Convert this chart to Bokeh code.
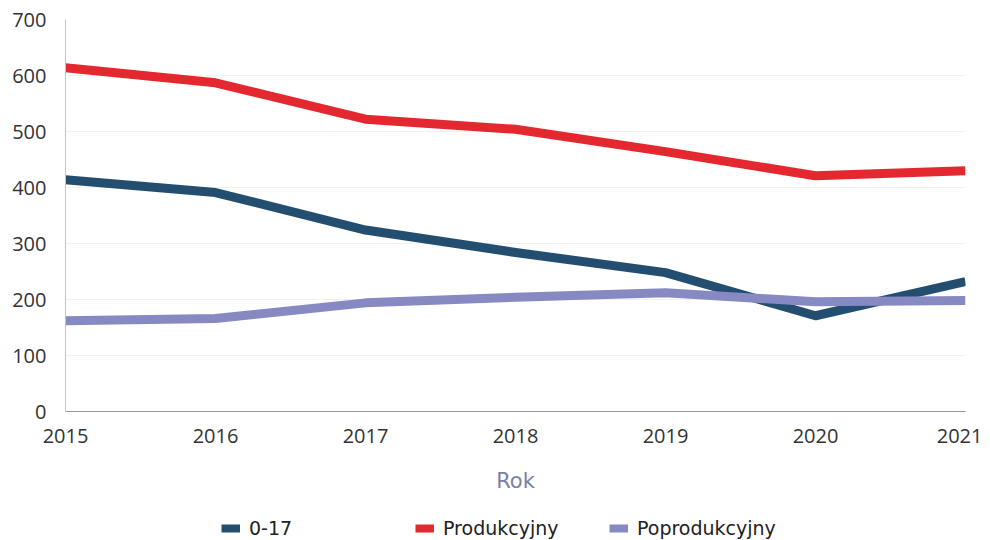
from bokeh.plotting import figure
from bokeh.models import Legend, LegendItem, FixedTicker, Range1d
from bokeh.layouts import column
from bokeh.embed import file_html
from bokeh.resources import INLINE

years = [2015, 2016, 2017, 2018, 2019, 2020, 2021]
ages_0_17 = [414, 391, 324, 284, 248, 171, 232]
produkcyjny = [614, 587, 522, 504, 464, 421, 430]
poprodukcyjny = [162, 166, 194, 204, 212, 196, 198]
y_ticks = [0, 100, 200, 300, 400, 500, 600, 700]

series_names = ["0-17", "Produkcyjny", "Poprodukcyjny"]
series_values = [ages_0_17, produkcyjny, poprodukcyjny]
series_colors = ["#234e70", "#e4282f", "#8789c3"]

p = figure(frame_width=900, frame_height=392, output_backend="svg", toolbar_location=None,
           x_range=Range1d(2015, 2021), y_range=Range1d(0, 700),
           min_border_left=65, min_border_right=17, min_border_top=19, min_border_bottom=105)
p.outline_line_color = None
p.background_fill_color = "white"

for vals, col in zip(series_values, series_colors):
    p.line(years, vals, line_color=col, line_width=9, line_join="round", line_cap="butt")

for ax in (p.xaxis[0], p.yaxis[0]):
    ax.major_tick_line_color = None
    ax.minor_tick_line_color = None
    ax.major_tick_out = 0
    ax.major_tick_in = 0
    ax.minor_tick_out = 0
    ax.major_label_text_font = "Open Sans"
    ax.major_label_text_font_size = "20px"
    ax.major_label_text_color = "#333333"

p.yaxis.ticker = FixedTicker(ticks=y_ticks)
p.xaxis.ticker = FixedTicker(ticks=years)
p.yaxis.axis_line_color = "#c4c4c4"
p.xaxis.axis_line_color = "#9a9a9a"
p.yaxis.major_label_standoff = 19
p.xaxis.major_label_standoff = 17
p.xaxis.axis_label = "Rok"
p.xaxis.axis_label_text_font = "DejaVu Sans"
p.xaxis.axis_label_text_font_style = "normal"
p.xaxis.axis_label_text_font_size = "21px"
p.xaxis.axis_label_text_color = "#7c7fa8"
p.xaxis.axis_label_standoff = 23

p.xgrid.grid_line_color = None
p.ygrid.grid_line_color = "#f1f1f1"
p.ygrid.ticker = FixedTicker(ticks=y_ticks)

# legend strip below the chart (its lines lie outside its visible range;
# only the legend swatches show)
lg = figure(width=982, height=24, output_backend="svg", toolbar_location=None,
            x_range=Range1d(0, 1), y_range=Range1d(0, 1),
            x_axis_location=None, y_axis_location=None,
            min_border_left=0, min_border_right=0, min_border_top=0, min_border_bottom=0)
lg.outline_line_color = None
lg.grid.visible = False
items = []
for name, vals, col in zip(series_names, series_values, series_colors):
    r = lg.line(years, vals, line_color=col, line_width=8, line_cap="butt")
    items.append(LegendItem(label=name, renderers=[r]))

legend = Legend(items=items, orientation="horizontal", location=(156, 1),
                glyph_width=19, glyph_height=12, label_standoff=9, label_width=158,
                spacing=8, padding=0, margin=0, border_line_color=None,
                background_fill_alpha=0,
                label_text_font="DejaVu Sans", label_text_font_size="19px",
                label_text_color="#222222")
lg.add_layout(legend)

layout = column(p, lg, spacing=0)
open("out.html", "w").write(file_html(layout, INLINE))
